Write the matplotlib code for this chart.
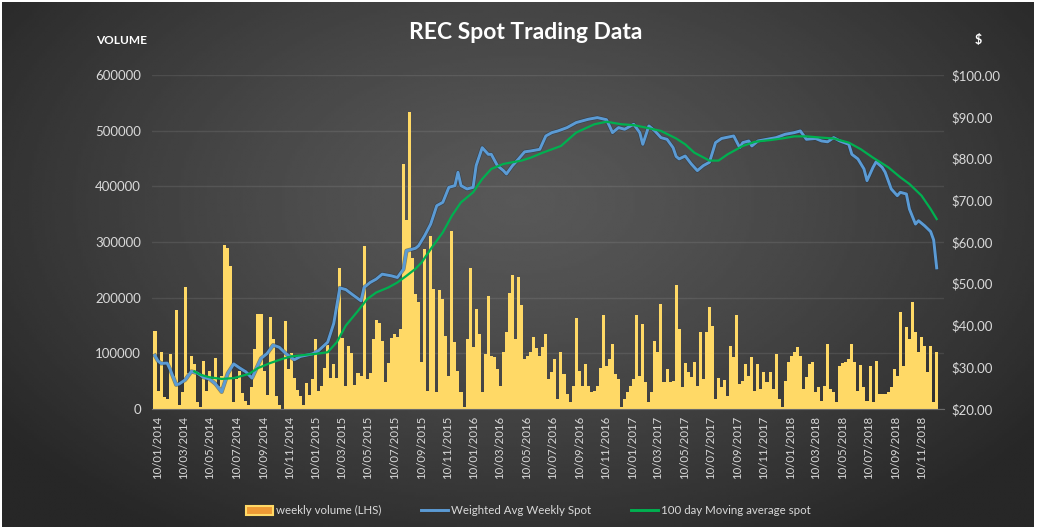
import numpy as np
import matplotlib
matplotlib.use('Agg')
import matplotlib.pyplot as plt
import matplotlib.dates as mdates
import matplotlib.patches as mpatches
import matplotlib.lines as mlines
from matplotlib.ticker import FuncFormatter, MultipleLocator

plt.rcParams['font.family'] = ['Lato', 'DejaVu Sans']

# weekly volume, in thousands of certificates, one value per week from first_week
first_week = '2014-01-03'
volume_k = [
    140, 33, 102, 22, 18, 98, 60, 178, 8, 30,
    220, 65, 95, 81, 12, 3, 86, 32, 68, 53,
    92, 42, 60, 295, 290, 256, 12, 53, 68, 29,
    14, 8, 40, 108, 171, 171, 68, 26, 165, 125,
    23, 8, 0, 158, 71, 100, 56, 35, 23, 8,
    47, 26, 53, 126, 33, 41, 74, 115, 56, 80,
    56, 253, 128, 41, 113, 100, 44, 65, 60, 292,
    53, 65, 125, 160, 155, 122, 48, 83, 128, 134,
    129, 144, 441, 340, 534,
    271, 207, 192, 84, 288, 33, 311, 216, 30, 213, 198, 132, 60, 320, 120,
    69, 30, 3, 126, 253, 111, 179, 135, 30, 99, 203, 96, 93, 72, 42,
    102, 138, 209, 240, 126, 237, 186, 90, 96, 102, 129, 110, 96,
    111, 135, 54, 66, 90, 18, 102, 63, 27, 12, 42, 163, 69, 42, 81,
    42, 30, 33, 42, 73, 169, 78, 90, 117, 63, 53, 3, 18, 30, 42,
    54, 169, 60, 153, 48, 12, 30, 123, 102, 189, 48, 72, 48, 51,
    222, 144, 39, 82, 66, 57, 85, 42, 138, 54, 138, 183, 150, 18, 55,
    39, 52, 24, 113, 93, 168, 45, 51, 81, 60, 93, 33, 81, 36, 66,
    49, 66, 36, 99, 18, 3, 51, 84, 96, 102, 111, 96, 36, 57,
    81, 84, 30, 39, 15, 42, 117, 36, 30, 12, 78, 83, 84, 90, 117,
    84, 33, 79, 39, 15, 78, 12, 87, 27, 27, 27, 30, 39, 72, 60,
    174, 78, 147, 126, 192, 138, 102, 129, 114, 66, 114, 12, 102,
]

# weighted average weekly spot price ($), week number counted from first_week
blue_week = [0, 1, 2, 4, 5, 7, 8, 10, 12, 14,
             16, 18, 20, 22, 24, 26, 28, 30, 32, 35,
             37, 39, 41, 43, 46, 48, 50, 52, 54, 57,
             59, 61, 63, 65, 68, 69, 71, 73, 75, 78,
             80, 82, 83, 86, 87, 89, 91, 93, 95, 97,
             99, 100, 101, 103, 105, 106, 108, 110, 111, 113,
             115, 116, 118, 120, 122, 124, 127, 129, 131, 133,
             136, 139, 143, 146, 149, 150, 151, 153, 155, 158,
             160, 161, 163, 165, 167, 169, 171, 172, 173, 175,
             177, 179, 181, 183, 185, 187, 191, 193, 194, 196,
             197, 199, 202, 205, 208, 211, 213, 215, 218, 220,
             222, 224, 226, 229, 230, 232, 234, 235, 237, 238,
             240, 241, 243, 245, 246, 248, 249, 251, 252, 254,
             256, 257, 258]
blue_price = [32.8, 31.5, 30.9, 31.0, 29.5, 25.8, 26.0, 27.0, 29.0, 28.6,
              27.6, 27.2, 26.0, 24.1, 28.5, 30.8, 29.8, 28.9, 27.4, 32.1,
              33.3, 35.3, 34.8, 33.4, 31.8, 32.6, 32.9, 33.2, 34.0, 36.0,
              40.5, 49.0, 48.6, 47.5, 45.9, 49.1, 50.3, 51.1, 52.3, 51.9,
              51.5, 53.5, 57.9, 58.5, 59.1, 61.5, 64.3, 68.7, 69.5, 73.1,
              73.5, 76.7, 73.5, 72.7, 73.1, 78.3, 82.6, 81.0, 81.0, 78.3,
              77.1, 76.3, 78.3, 79.9, 81.6, 81.8, 82.2, 85.4, 86.2, 86.6,
              87.4, 88.6, 89.4, 89.8, 89.3, 87.8, 86.2, 87.4, 87.0, 88.2,
              86.2, 83.4, 87.8, 86.6, 85.0, 84.6, 82.6, 80.5, 79.9, 80.6,
              78.7, 77.1, 78.3, 79.1, 83.8, 84.8, 85.4, 82.6, 83.8, 84.2,
              83.0, 84.2, 84.6, 85.0, 85.8, 86.2, 86.6, 84.6, 84.8, 84.2,
              84.0, 85.0, 84.2, 83.4, 81.0, 79.9, 77.5, 74.7, 77.9, 79.2,
              77.9, 76.7, 72.7, 71.1, 71.9, 71.5, 67.9, 64.3, 65.1, 63.9,
              62.5, 60.5, 53.8]

# 100 day moving average spot ($)
green_week = [13, 15, 18, 22, 26, 31, 34, 38, 42, 45,
              50, 53, 57, 60, 63, 67, 70, 73, 77, 80,
              83, 86, 88, 91, 95, 98, 101, 105, 108, 111,
              115, 118, 121, 124, 128, 134, 139, 145, 149, 154,
              158, 162, 167, 172, 175, 178, 183, 186, 189, 194,
              198, 203, 207, 211, 215, 220, 224, 229, 233, 237,
              242, 246, 249, 253, 256, 258]
green_price = [29.0, 28.2, 27.6, 27.2, 27.4, 28.4, 29.8, 31.0, 32.0, 32.6,
               33.0, 33.2, 33.6, 36.0, 40.0, 43.5, 46.3, 47.9, 49.1, 50.3,
               51.9, 53.6, 55.1, 58.3, 62.3, 66.3, 69.5, 71.9, 75.1, 77.5,
               78.7, 79.1, 79.5, 80.2, 81.4, 83.0, 86.2, 88.2, 88.8, 88.2,
               88.0, 87.4, 86.6, 84.8, 83.4, 81.4, 79.5, 79.5, 81.0, 83.0,
               84.0, 84.4, 84.8, 85.3, 85.3, 85.0, 84.8, 83.8, 82.2, 80.2,
               77.9, 75.5, 73.9, 71.1, 67.9, 65.5]

TXT = '#d9d9d9'
BAR = '#FFD966'
BLUE = '#5B9BD5'
GREEN = '#00B050'

start = np.datetime64(first_week)
week = np.timedelta64(7, 'D')
bar_dates = start + np.arange(len(volume_k)) * week
blue_dates = start + np.array(blue_week) * week
green_dates = start + np.array(green_week) * week

fig = plt.figure(figsize=(10.38, 5.30), dpi=100, facecolor='white')

# dark radial background like the excel chart area
bg = fig.add_axes([0.002, 0.006, 0.994, 0.99])
bg.axis('off')
gx, gy = np.meshgrid(np.linspace(0, 1, 400), np.linspace(0, 1, 220))
r = np.sqrt(((gx - 0.5) / 0.62) ** 2 + ((gy - 0.62) / 0.75) ** 2)
shade = 0.345 - 0.19 * np.clip(r, 0, 1) ** 1.3
bg.imshow(shade, cmap='gray', vmin=0, vmax=1, extent=[0, 1, 0, 1],
          origin='lower', aspect='auto', interpolation='bilinear')
bg.set_xlim(0, 1)
bg.set_ylim(0, 1)

ax = fig.add_axes([152 / 1038, 121 / 530, 792 / 1038, 334 / 530])
ax.set_facecolor('none')
ax.bar(bar_dates, np.array(volume_k) * 1000, width=7, color=BAR,
       linewidth=0, align='center', zorder=2)
ax.set_ylim(0, 600000)
ax.yaxis.set_major_locator(MultipleLocator(100000))
ax.yaxis.set_major_formatter(FuncFormatter(lambda v, p: '%d' % v))
ax.yaxis.grid(True, color='white', alpha=0.09, linewidth=1)
ax.set_axisbelow(True)
left = mdates.date2num(start) - 6.9
ax.set_xlim(left, left + 261.4 * 7)
ax.xaxis.set_major_locator(mdates.MonthLocator(bymonth=range(1, 13, 2), bymonthday=10))
ax.xaxis.set_major_formatter(mdates.DateFormatter('%d/%m/%Y'))
for s in ['top', 'right', 'left']:
    ax.spines[s].set_visible(False)
ax.spines['bottom'].set_color('#6b6b6b')
ax.tick_params(axis='y', colors=TXT, labelsize=9.5, length=0, pad=8)
ax.tick_params(axis='x', colors=TXT, labelsize=8.2, length=0, pad=5)
plt.setp(ax.get_xticklabels(), rotation=90, ha='center', va='top')

ax2 = ax.twinx()
ax2.set_facecolor('none')
ax2.plot(blue_dates, blue_price, color='#1f2f40', lw=3.0, alpha=0.5, zorder=3)
ax2.plot(blue_dates, blue_price, color=BLUE, lw=2.1, zorder=4)
ax2.plot(green_dates, green_price, color=GREEN, lw=1.6, zorder=5)
ax2.set_ylim(20, 100)
ax2.yaxis.set_major_locator(MultipleLocator(10))
ax2.yaxis.set_major_formatter(FuncFormatter(lambda v, p: '$%.2f' % v))
for s in ax2.spines.values():
    s.set_visible(False)
ax2.tick_params(axis='y', colors=TXT, labelsize=9.5, length=0, pad=5)

fig.text(0.506, 0.938, 'REC Spot Trading Data', color='white', fontsize=16.5,
         fontweight='bold', ha='center', va='center')
fig.text(0.117, 0.923, 'VOLUME', color='white', fontsize=8.5,
         fontweight='bold', ha='center', va='center')
fig.text(0.942, 0.925, '$', color='white', fontsize=9,
         fontweight='bold', ha='center', va='center')

handles = [
    mpatches.Patch(facecolor='#EE9A35', edgecolor=BAR, linewidth=1.5),
    mlines.Line2D([], [], color=BLUE, lw=2.1),
    mlines.Line2D([], [], color=GREEN, lw=2.1),
]
labels = ['weekly volume (LHS)', 'Weighted Avg Weekly Spot', '100 day Moving average spot']
leg = fig.legend(handles, labels, loc='center', bbox_to_anchor=(0.509, 0.036),
                 ncol=3, frameon=False, fontsize=8.3, handlelength=2.4,
                 handleheight=0.9, handletextpad=0.25, columnspacing=3.4)
for t in leg.get_texts():
    t.set_color(TXT)

fig.savefig('out.png', dpi=100, facecolor='white')
